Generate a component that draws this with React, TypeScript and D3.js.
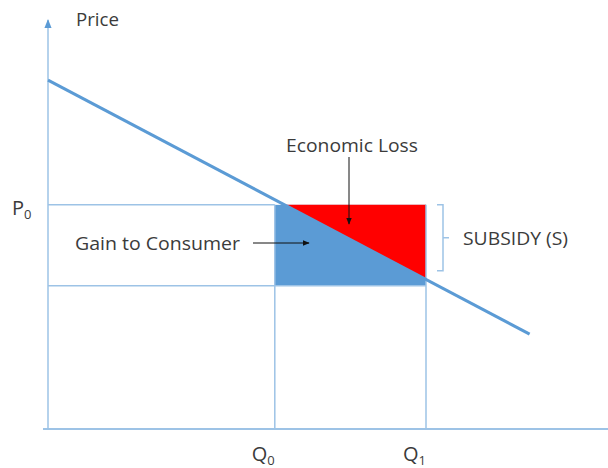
import React from 'react';
import * as d3 from 'd3';

// demand curve end points (quantity, price)
const demandQ = [0, 8.6];
const demandP = [8.53, 2.32];
// Q0, Q1
const qLevels = [4.05, 6.75];
const qLabels = ['0', '1'];
// P0, price paid after subsidy
const pLevels = [5.48, 3.5];

const axisColor = '#9dc3e6';
const lineBlue = '#5b9bd5';
const textColor = '#3b3b3b';
const font = '"Open Sans", "DejaVu Sans", sans-serif';

const App = () => {
  const width = 608;
  const height = 468;
  const x = d3.scaleLinear().domain([0, 10]).range([48, 608]);
  const y = d3.scaleLinear().domain([0, 10]).range([429, 20]);

  const slope = (demandP[1] - demandP[0]) / (demandQ[1] - demandQ[0]);
  const demandAt = (q: number) => demandP[0] + slope * (q - demandQ[0]);
  const qAtP0 = demandQ[0] + (pLevels[0] - demandP[0]) / slope;

  const line = d3.line<[number, number]>().x(d => x(d[0])).y(d => y(d[1]));
  const demandPath = line([[demandQ[0], demandP[0]], [demandQ[1], demandP[1]]]);
  const lossPath = line([
    [qAtP0, pLevels[0]],
    [qLevels[1], pLevels[0]],
    [qLevels[1], demandAt(qLevels[1])],
  ]) + 'Z';

  const [q0, q1] = qLevels.map(x);
  const [p0, p1] = pLevels.map(y);
  const x0 = x(0);
  const y0 = y(0);

  return (
    <svg width={width} height={height} style={{ position: 'absolute', left: 0, top: 0, background: '#fff' }}
      fontFamily={font}>
      <defs>
        <marker id="arrowBlack" viewBox="0 0 10 10" refX="9" refY="5" markerWidth="7" markerHeight="7" orient="auto">
          <path d="M0,1 L10,5 L0,9 Z" fill="#111" />
        </marker>
        <marker id="arrowAxis" viewBox="0 0 10 10" refX="9" refY="5" markerWidth="6" markerHeight="6" orient="auto">
          <path d="M0,1 L10,5 L0,9 Z" fill={lineBlue} />
        </marker>
      </defs>

      {/* shaded areas */}
      <rect x={q0} y={p0} width={q1 - q0} height={p1 - p0} fill={lineBlue} />
      <path d={lossPath} fill="#ff0000" />

      {/* guide lines */}
      <g stroke={axisColor} strokeWidth={1.5} fill="none">
        <line x1={x0} x2={q0} y1={p0} y2={p0} />
        <line x1={x0} x2={q1} y1={p1} y2={p1} />
        <line x1={q0} x2={q0} y1={p0} y2={y0} />
        <line x1={q1} x2={q1} y1={p0} y2={y0} />
      </g>

      {/* axes */}
      <line x1={x0 - 5} x2={width} y1={y0} y2={y0} stroke={axisColor} strokeWidth={2} />
      <line x1={x0} x2={x0} y1={y0} y2={y(10)} stroke={axisColor} strokeWidth={1.5} markerEnd="url(#arrowAxis)" />

      {/* demand */}
      <path d={demandPath ?? ''} stroke={lineBlue} strokeWidth={3} fill="none" />

      {/* subsidy bracket */}
      <path
        d={`M${q1 + 11},${p0} H${q1 + 17} V${p1 - 15} H${q1 + 11} M${q1 + 17},${(p0 + p1 - 15) / 2} H${q1 + 23}`}
        stroke={axisColor} strokeWidth={1.5} fill="none" />

      {/* annotation arrows */}
      <line x1={253} x2={309} y1={243} y2={243} stroke="#111" strokeWidth={1} markerEnd="url(#arrowBlack)" />
      <line x1={349} x2={349} y1={157} y2={224} stroke="#111" strokeWidth={1} markerEnd="url(#arrowBlack)" />

      {/* text */}
      <g fill={textColor} fontSize={18}>
        <text x={76} y={26} textLength={43} lengthAdjust="spacingAndGlyphs">Price</text>
        <text x={12} y={215} fontSize={20}>P<tspan fontSize={13} dy={4}>0</tspan></text>
        <text x={75} y={250} textLength={165} lengthAdjust="spacingAndGlyphs">Gain to Consumer</text>
        <text x={286} y={152} textLength={132} lengthAdjust="spacingAndGlyphs">Economic Loss</text>
        <text x={463} y={245} textLength={105} lengthAdjust="spacingAndGlyphs">SUBSIDY (S)</text>
        {qLevels.map((q, i) => (
          <text key={i} x={x(q) - 23} y={461} fontSize={20}>
            Q<tspan fontSize={13} dy={4}>{qLabels[i]}</tspan>
          </text>
        ))}
      </g>
    </svg>
  );
};

export default App;
